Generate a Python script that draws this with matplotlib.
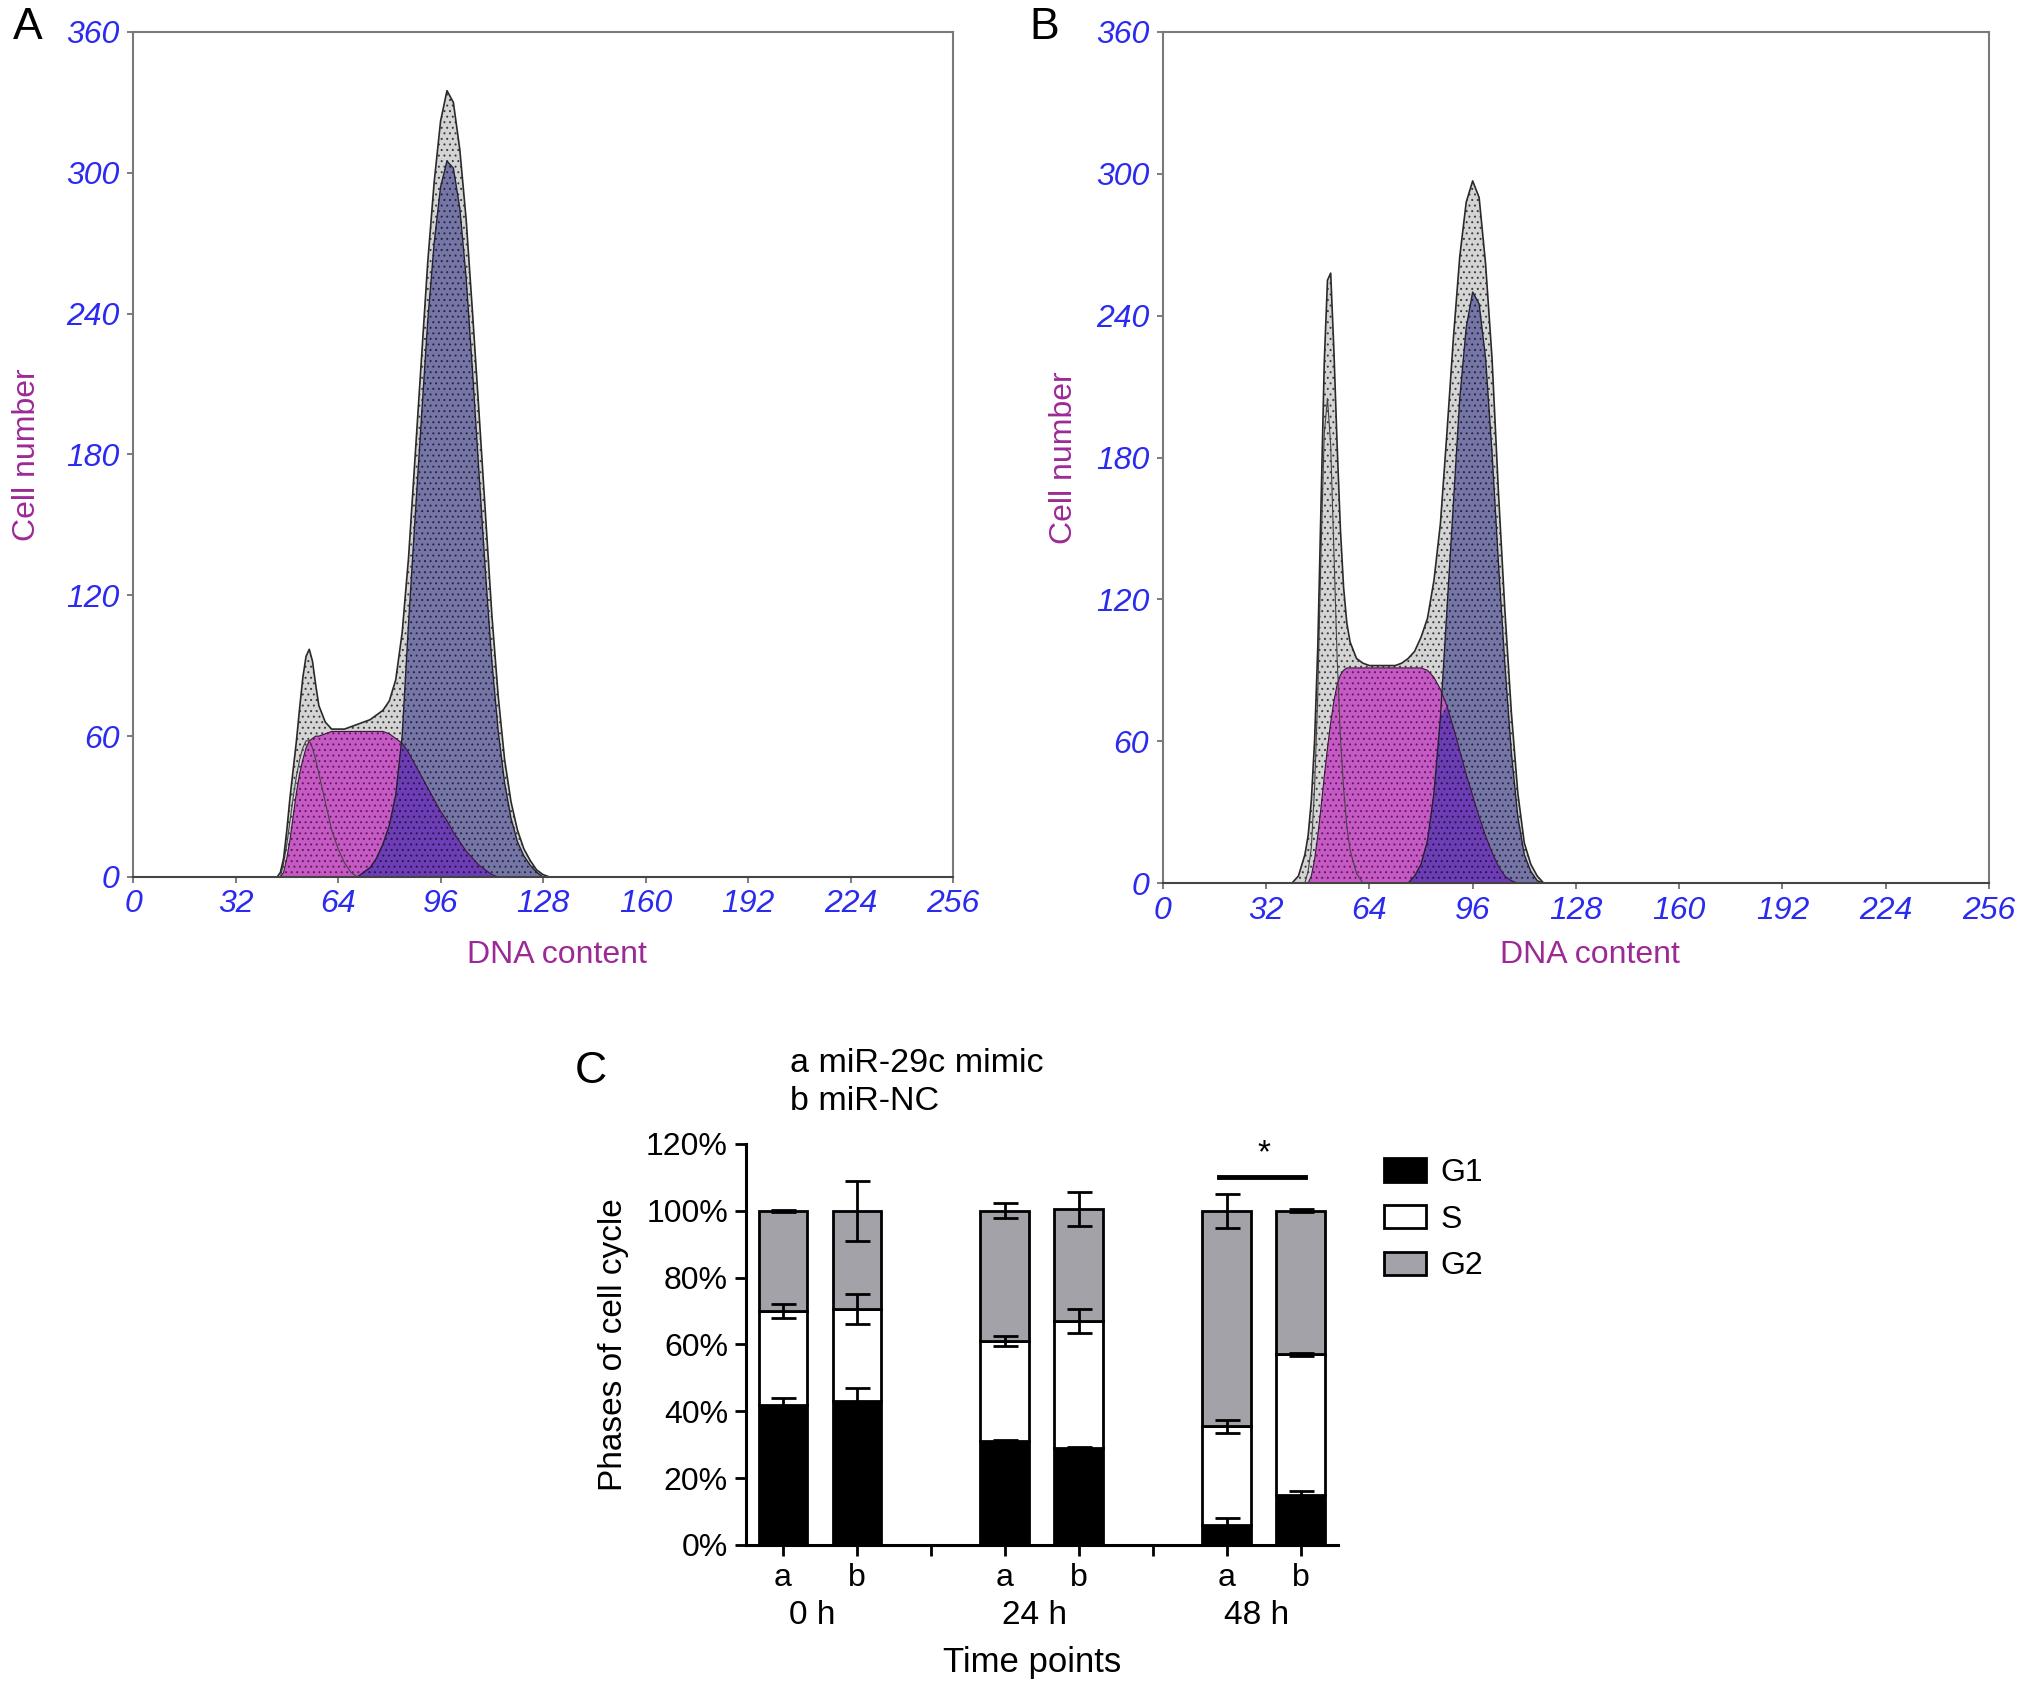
import numpy as np
import matplotlib
matplotlib.use('Agg')
import matplotlib.pyplot as plt

plt.rcParams['font.family'] = ['Liberation Sans', 'DejaVu Sans']
plt.rcParams['hatch.linewidth'] = 0.7

dna = [40, 42, 44, 45, 46, 47, 48, 49, 50, 51, 52, 53, 54, 55, 56, 57, 58,
       60, 62, 64, 66, 68, 70, 72, 74, 76, 78, 80, 82, 84, 86, 88, 90, 92, 94,
       96, 98, 100, 102, 104, 106, 108, 110, 112, 114, 116, 118, 120, 122, 124,
       126, 128, 130]

# panel A (miR-29c mimic)
env_a = [0, 0, 0, 0, 2, 8, 20, 34, 46, 58, 72, 85, 94, 97, 92, 82, 73,
         66, 63, 63, 63, 64, 65, 66, 67, 69, 71, 75, 84, 104, 136, 178, 220, 262, 296,
         322, 335, 330, 310, 280, 240, 198, 155, 112, 77, 50, 32, 20, 12, 7,
         3, 1, 0]
g1_a = [0, 0, 0, 0, 0, 6, 14, 24, 34, 43, 50, 55, 58, 58, 55, 50, 44,
        32, 20, 12, 6, 2, 0, 0, 0, 0, 0, 0, 0, 0, 0, 0, 0, 0, 0,
        0, 0, 0, 0, 0, 0, 0, 0, 0, 0, 0, 0, 0, 0, 0,
        0, 0, 0]
s_a = [0, 0, 0, 0, 0, 2, 8, 16, 26, 36, 44, 50, 55, 58, 59, 60, 60,
       61, 62, 62, 62, 62, 62, 62, 62, 62, 62, 61, 59, 57, 53, 48, 43, 38, 33,
       28, 24, 19, 15, 11, 8, 5, 3, 1, 0, 0, 0, 0, 0, 0,
       0, 0, 0]
g2_a = [0, 0, 0, 0, 0, 0, 0, 0, 0, 0, 0, 0, 0, 0, 0, 0, 0,
        0, 0, 0, 0, 0, 0, 2, 4, 8, 14, 22, 35, 60, 108, 152, 195, 237, 270,
        294, 305, 302, 285, 255, 215, 172, 130, 92, 62, 40, 25, 15, 9, 5,
        2, 0, 0]

# panel B (miR-NC)
env_b = [0, 3, 12, 20, 35, 60, 100, 160, 220, 255, 258, 225, 185, 150, 125, 110, 102,
         95, 93, 92, 92, 92, 92, 92, 93, 95, 98, 104, 112, 128, 152, 190, 230, 265, 288,
         297, 290, 262, 222, 165, 115, 72, 38, 17, 8, 3, 0, 0, 0, 0,
         0, 0, 0]
g1_b = [0, 0, 0, 5, 15, 40, 80, 140, 190, 205, 185, 140, 95, 62, 40, 24, 14,
        4, 0, 0, 0, 0, 0, 0, 0, 0, 0, 0, 0, 0, 0, 0, 0, 0, 0,
        0, 0, 0, 0, 0, 0, 0, 0, 0, 0, 0, 0, 0, 0, 0,
        0, 0, 0]
s_b = [0, 0, 0, 0, 3, 10, 20, 32, 45, 57, 68, 77, 84, 88, 90, 91, 91,
       91, 91, 91, 91, 91, 91, 91, 91, 91, 91, 91, 90, 87, 82, 75, 66, 56, 46,
       37, 28, 20, 13, 7, 3, 1, 0, 0, 0, 0, 0, 0, 0, 0,
       0, 0, 0]
g2_b = [0, 0, 0, 0, 0, 0, 0, 0, 0, 0, 0, 0, 0, 0, 0, 0, 0,
        0, 0, 0, 0, 0, 0, 0, 0, 0, 3, 8, 18, 38, 70, 115, 160, 205, 235,
        250, 245, 222, 182, 135, 92, 55, 28, 12, 5, 1, 0, 0, 0, 0,
        0, 0, 0]

# panel C: stacked cell cycle phases (%)
time_points = ['0 h', '24 h', '48 h']
conditions = ['a', 'b']
g1_pct = [42, 43, 31, 29, 6, 15]
s_pct = [28, 27.5, 30, 38, 29.5, 42]
g2_pct = [30, 29.5, 39, 33.5, 64.5, 43]
g1_err = [2, 4, 0.3, 0.3, 2, 1]
s_err = [2, 4.5, 1.5, 3.5, 2, 0.5]
g2_err = [0.3, 9, 2.2, 5, 5, 0.5]

TICK_BLUE = '#2b2bf0'
LABEL_PURPLE = '#9c2a95'


def shade(ax, x, y, face, dots, z):
    ax.fill_between(x, 0, y, facecolor=face, lw=0, zorder=z)
    ax.fill_between(x, 0, y, facecolor='none', edgecolor=dots, hatch='...',
                    lw=0, zorder=z + 0.1)


def histogram(ax, env, g1, s, g2):
    x = np.array(dna)
    env, g1, s, g2 = map(np.array, (env, g1, s, g2))
    shade(ax, x, env, '#d4d4d4', '#3a3a3a', 1)
    shade(ax, x, g2, '#7676a6', '#25253f', 2)
    shade(ax, x, s, '#c65ac4', '#5e1a5c', 3)
    shade(ax, x, np.minimum(s, g2), '#6c3db4', '#26154a', 4)
    ax.plot(x, g2, color='#222233', lw=1.0, zorder=5)
    ax.plot(x, s, color='#3a1a3a', lw=0.8, zorder=5)
    ax.plot(x, g1, color='#444444', lw=0.8, zorder=5)
    ax.plot(x, env, color='#2a2a2a', lw=1.2, zorder=5)

    ax.set_xlim(0, 256)
    ax.set_ylim(0, 360)
    ax.set_xticks(range(0, 257, 32))
    ax.set_yticks(range(0, 361, 60))
    ax.tick_params(direction='out', length=4, width=1.2, color='#666666',
                   labelsize=23, labelcolor=TICK_BLUE)
    ax.tick_params(axis='x', pad=5)
    ax.tick_params(axis='y', pad=6)
    for lab in ax.get_xticklabels() + ax.get_yticklabels():
        lab.set_style('italic')
    for sp in ax.spines.values():
        sp.set_color('#7a7a7a')
        sp.set_linewidth(1.5)
    ax.spines['bottom'].set_color('#444444')
    ax.spines['bottom'].set_zorder(6)
    ax.set_xlabel('DNA content', fontsize=23, color=LABEL_PURPLE)
    ax.set_ylabel('Cell number', fontsize=23, color=LABEL_PURPLE)


fig = plt.figure(figsize=(20.32, 16.92), dpi=100)

ax_a = fig.add_axes([0.0655, 0.4817, 0.4035, 0.4994])
histogram(ax_a, env_a, g1_a, s_a, g2_a)
ax_a.yaxis.set_label_coords(-0.111, 0.5)
ax_a.xaxis.set_label_coords(0.517, -0.075)

ax_b = fig.add_axes([0.5723, 0.4781, 0.4065, 0.5030])
histogram(ax_b, env_b, g1_b, s_b, g2_b)
ax_b.yaxis.set_label_coords(-0.102, 0.5)
ax_b.xaxis.set_label_coords(0.517, -0.067)

fig.text(0.0138, 0.9835, 'A', fontsize=32, ha='center', va='center')
fig.text(0.514, 0.9835, 'B', fontsize=32, ha='center', va='center')

# ---- panel C ----
ax_c = fig.add_axes([0.3671, 0.0869, 0.2913, 0.2370])
xpos = np.array([g * 3 + c for g in range(len(time_points)) for c in range(len(conditions))])
g1v, sv, g2v = np.array(g1_pct), np.array(s_pct), np.array(g2_pct)
w = 0.66
bar_g1 = ax_c.bar(xpos, g1v, width=w, color='black', edgecolor='black', lw=2, label='G1', zorder=2)
bar_s = ax_c.bar(xpos, sv, bottom=g1v, width=w, color='white', edgecolor='black', lw=2, label='S', zorder=2)
bar_g2 = ax_c.bar(xpos, g2v, bottom=g1v + sv, width=w, color='#a2a2a8', edgecolor='black', lw=2,
                  label='G2', zorder=2)
for top, err in ((g1v, g1_err), (g1v + sv, s_err), (g1v + sv + g2v, g2_err)):
    ax_c.errorbar(xpos, top, yerr=err, fmt='none', ecolor='black', elinewidth=2,
                  capsize=9, capthick=2, zorder=3)

ax_c.set_xlim(-0.5, 7.5)
ax_c.set_ylim(0, 120)
ax_c.set_yticks(range(0, 121, 20))
ax_c.set_yticklabels([f'{v}%' for v in range(0, 121, 20)])
ax_c.set_xticks(range(8))
ax_c.set_xticklabels(['a', 'b', '', 'a', 'b', '', 'a', 'b'])
ax_c.tick_params(direction='out', length=8, width=2, labelsize=23, pad=5, color='black')
for side in ('top', 'right'):
    ax_c.spines[side].set_visible(False)
for side in ('left', 'bottom'):
    ax_c.spines[side].set_linewidth(2.2)
ax_c.set_ylabel('Phases of cell cycle', fontsize=24)
ax_c.yaxis.set_label_coords(-0.198, 0.5)

for g, name in enumerate(time_points):
    ax_c.text(g * 3 + 0.4, -0.177, name, transform=ax_c.get_xaxis_transform(),
              fontsize=24, ha='center', va='center')
ax_c.text(3.37, -0.292, 'Time points', transform=ax_c.get_xaxis_transform(),
          fontsize=25, ha='center', va='center')

ax_c.plot([5.9, 7.05], [110, 110], color='black', lw=3.5, clip_on=False)
ax_c.text(6.5, 117, '*', fontsize=24, ha='center', va='center')

fig.legend(handles=[bar_g1, bar_s, bar_g2], loc='upper left', bbox_to_anchor=(0.681, 0.3155),
           frameon=False, fontsize=23, borderpad=0, borderaxespad=0, handlelength=1.31,
           handleheight=0.75, handletextpad=0.47, labelspacing=0.52)

fig.text(0.2909, 0.367, 'C', fontsize=32, ha='center', va='center')
fig.text(0.3888, 0.3717, 'a miR-29c mimic', fontsize=24.5, ha='left', va='center')
fig.text(0.3888, 0.3487, 'b miR-NC', fontsize=24.5, ha='left', va='center')

fig.savefig('out.png', dpi=100)
